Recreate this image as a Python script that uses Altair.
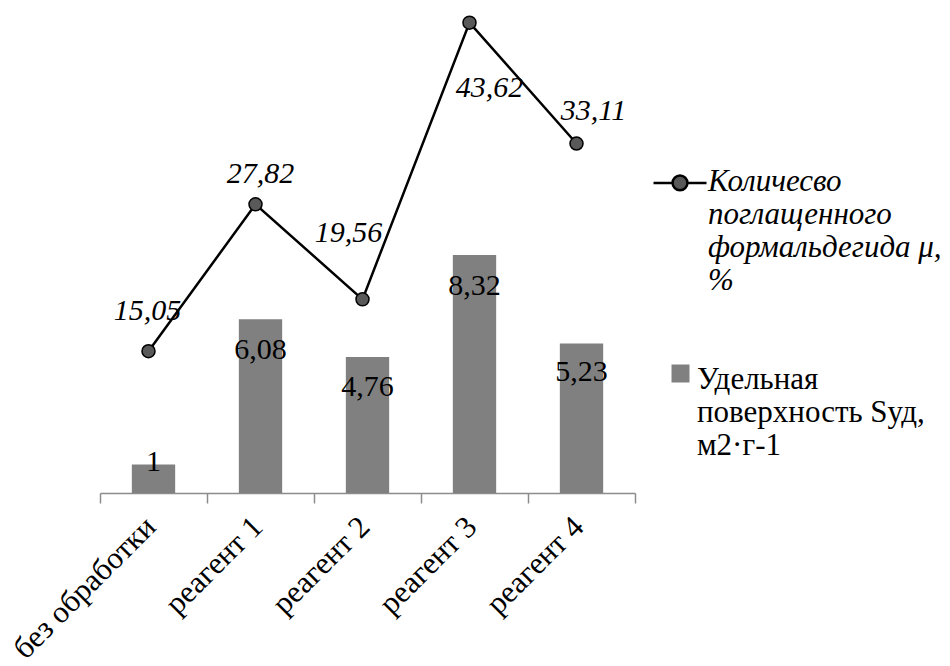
import altair as alt
import pandas as pd

# ---- data ----
categories = ["без обработки", "реагент 1", "реагент 2", "реагент 3", "реагент 4"]
surface = [1, 6.08, 4.76, 8.32, 5.23]                 # Удельная поверхность
formaldehyde = [15.05, 27.82, 19.56, 43.62, 33.11]    # поглощенный формальдегид
bar_series = "Удельная\nповерхность Sуд,\nм2·г-1"
line_series = "Количесво\nпоглащенного\nформальдегида μ,\n%"

# label placement (pixels) as in the original chart
line_label_dx = [-1, 5, -14, 20, 17]
line_label_dy = [-40, -30, -66, 65, -33]
bar_label_dy = [-2, 31, 30, 31, 29]

def fmt(v):
    return f"{v:g}".replace(".", ",")

df = pd.DataFrame({
    "cat": categories,
    "surface": surface,
    "form": formaldehyde,
    "bar_lbl": [fmt(v) for v in surface],
    "line_lbl": [fmt(v) for v in formaldehyde],
    "ldx": [d - 5 for d in line_label_dx],
    "ldy": line_label_dy,
    "bdy": bar_label_dy,
    "bser": [bar_series] * len(categories),
    "lser": [line_series] * len(categories),
})

FONT = "Liberation Serif"
bar_dom = [0, 17.24]
line_dom = [2.72, 45.59]

x = alt.X(
    "cat:N", sort=categories, title=None,
    scale=alt.Scale(paddingInner=0, paddingOuter=0),
    axis=alt.Axis(
        labelAngle=-45, labelAlign="right", labelBaseline="middle",
        labelFont=FONT, labelFontSize=31, labelColor="black",
        labelPadding=19, labelOffset=-3, labelLimit=0,
        domainColor="#8c8c8c", domainWidth=1.5,
        tickColor="#8c8c8c", tickWidth=1.5, tickSize=10, tickBand="extent",
        grid=False,
    ),
)

base = alt.Chart(df)

bars = base.mark_bar(width=alt.RelativeBandSize(0.405)).encode(
    x=x,
    y=alt.Y("surface:Q", scale=alt.Scale(domain=bar_dom, nice=False, zero=False), axis=None),
    color=alt.Color(
        "bser:N", scale=alt.Scale(range=["#808080"]),
        legend=alt.Legend(
            title=None, orient="none", legendX=565, legendY=349,
            symbolType="M-1,0H1V2H-1Z", symbolSize=324, symbolStrokeWidth=0,
            labelFont=FONT, labelFontSize=31, labelColor="black",
            labelExpr="split(datum.label, '\\n')", labelLimit=0, labelOffset=1,
            labelBaseline="top", padding=0,
        ),
    ),
)

bar_text = base.mark_text(font=FONT, fontSize=30, color="black", baseline="middle",
                          dy={"expr": "datum.bdy"}).encode(
    x=x,
    y=alt.Y("surface:Q", scale=alt.Scale(domain=bar_dom, nice=False, zero=False), axis=None),
    text="bar_lbl:N",
)

line = base.mark_line(color="black", strokeWidth=2.5, xOffset=-5).encode(
    x=x,
    y=alt.Y("form:Q", scale=alt.Scale(domain=line_dom, nice=False, zero=False), axis=None),
)

# legend symbol: line with a dot, drawn slightly below centre to sit on the first label line
path = ("M-1,0.6L-0.28,0.6M0.28,0.6L1,0.6"
        "M-0.28,0.6A0.28,0.28,0,1,1,0.28,0.6A0.28,0.28,0,1,1,-0.28,0.6Z")

points = base.mark_point(filled=True, size=170, stroke="black", strokeWidth=1.5,
                         opacity=1, xOffset=-5).encode(
    x=x,
    y=alt.Y("form:Q", scale=alt.Scale(domain=line_dom, nice=False, zero=False), axis=None),
    fill=alt.Fill(
        "lser:N", scale=alt.Scale(range=["#595959"]),
        legend=alt.Legend(
            title=None, orient="none", legendX=552, legendY=139,
            symbolType=path, symbolSize=2809, symbolStrokeColor="black",
            symbolStrokeWidth=2.5, symbolFillColor="#595959",
            labelFont=FONT, labelFontSize=31, labelFontStyle="italic",
            labelColor="black", labelExpr="split(datum.label, '\\n')",
            labelLimit=0, labelOffset=0, labelBaseline="top", padding=0,
        ),
    ),
)

line_text = base.mark_text(font=FONT, fontSize=30, fontStyle="italic",
                           color="black", baseline="middle",
                           dx={"expr": "datum.ldx"}, dy={"expr": "datum.ldy"}).encode(
    x=x,
    y=alt.Y("form:Q", scale=alt.Scale(domain=line_dom, nice=False, zero=False), axis=None),
    text="line_lbl:N",
)

chart = alt.layer(bars, bar_text, line, points, line_text).resolve_scale(
    y="independent"
).properties(
    width=535, height=493,
    background="white",
    autosize=alt.AutoSizeParams(type="none"),
    padding={"left": 100, "top": 0, "right": 315, "bottom": 173},
).configure_view(stroke="transparent", strokeWidth=0)

chart.save("out.html", embed_options={"renderer": "svg", "actions": False})
